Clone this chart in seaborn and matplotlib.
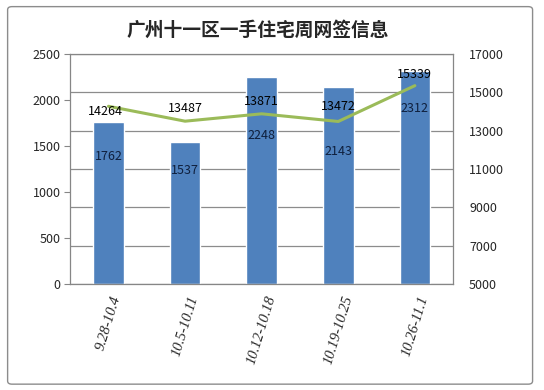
import matplotlib
matplotlib.use('Agg')
import matplotlib.pyplot as plt
import seaborn as sns
import pandas as pd
from matplotlib.patches import FancyBboxPatch

# 数据
weeks = ['9.28-10.4', '10.5-10.11', '10.12-10.18', '10.19-10.25', '10.26-11.1']
units = [1762, 1537, 2248, 2143, 2312]          # 左轴: 网签套数
area = [14264, 13487, 13871, 13472, 15339]      # 右轴
left_ticks = [0, 500, 1000, 1500, 2000, 2500]
right_ticks = [5000, 7000, 9000, 11000, 13000, 15000, 17000]
title = '广州十一区一手住宅周网签信息'

# 标签偏移 (points), 仿照Excel自动避让
bar_label_dy = [-25, -20, -42, -47, -27]
line_label_dy = [-4, 9, 9, 11, 8]

sns.set_style('white')
plt.rcParams['font.family'] = ['Noto Sans CJK SC', 'DejaVu Sans']

df = pd.DataFrame({'week': weeks, 'units': units, 'area': area})

fig = plt.figure(figsize=(5.44, 3.9), dpi=100)
ax = fig.add_axes([0.129, 0.272, 0.704, 0.59])

# 网格层 (右轴刻度), 放在柱子下面
axg = ax.twinx()
axg.set_zorder(ax.get_zorder() - 1)
ax.patch.set_visible(False)
axg.set_ylim(right_ticks[0], right_ticks[-1])
axg.set_yticks(right_ticks)
axg.yaxis.grid(True, color='#8c8c8c', linewidth=0.9)
axg.tick_params(right=False, labelright=False)
for s in axg.spines.values():
    s.set_visible(False)

# 柱状图
sns.barplot(data=df, x='week', y='units', color='#4F81BD', width=0.4,
            saturation=1, ax=ax, zorder=2)
ax.set_ylim(left_ticks[0], left_ticks[-1])
ax.set_yticks(left_ticks)
ax.set_xlim(-0.5, len(weeks) - 0.5)
ax.set_xlabel('')
ax.set_ylabel('')
ax.tick_params(axis='y', labelsize=9, left=True, length=4, color='#868686', pad=3)
ax.tick_params(axis='x', bottom=False, pad=4)
ax.set_xticks(range(len(weeks)))
ax.set_xticklabels(weeks, rotation=73, fontsize=10.5, style='italic',
                   family=['Liberation Serif', 'DejaVu Serif'],
                   ha='center', rotation_mode='default')
for s in ax.spines.values():
    s.set_color('#868686')
    s.set_linewidth(0.9)
for i, v in enumerate(units):
    ax.annotate(str(v), (i, v), xytext=(0, bar_label_dy[i]),
                textcoords='offset points', ha='center', va='center',
                fontsize=9, color='#0f1f3d')

# 折线 (右轴)
axl = ax.twinx()
sns.lineplot(x=list(range(len(weeks))), y=area, color='#9BBB59', linewidth=2.2,
             ax=axl, zorder=3)
axl.set_ylim(right_ticks[0], right_ticks[-1])
axl.set_yticks(right_ticks)
axl.tick_params(axis='y', labelsize=9, right=False, pad=8)
for s in axl.spines.values():
    s.set_visible(False)
for i, v in enumerate(area):
    axl.annotate(str(v), (i, v), xytext=(-2 if i == 0 else 0, line_label_dy[i]),
                 textcoords='offset points', ha='center', va='center',
                 fontsize=9, color='black')

fig.text(0.473, 0.922, title, ha='center', va='center', fontsize=13.5,
         fontweight='bold')

# 图表区外框
fig.patches.append(FancyBboxPatch((0.014, 0.015), 0.965, 0.968,
                                  boxstyle='round,pad=0,rounding_size=0.008',
                                  transform=fig.transFigure, fill=False,
                                  edgecolor='#8c8c8c', linewidth=1.0))

fig.savefig('out.png', dpi=100)
